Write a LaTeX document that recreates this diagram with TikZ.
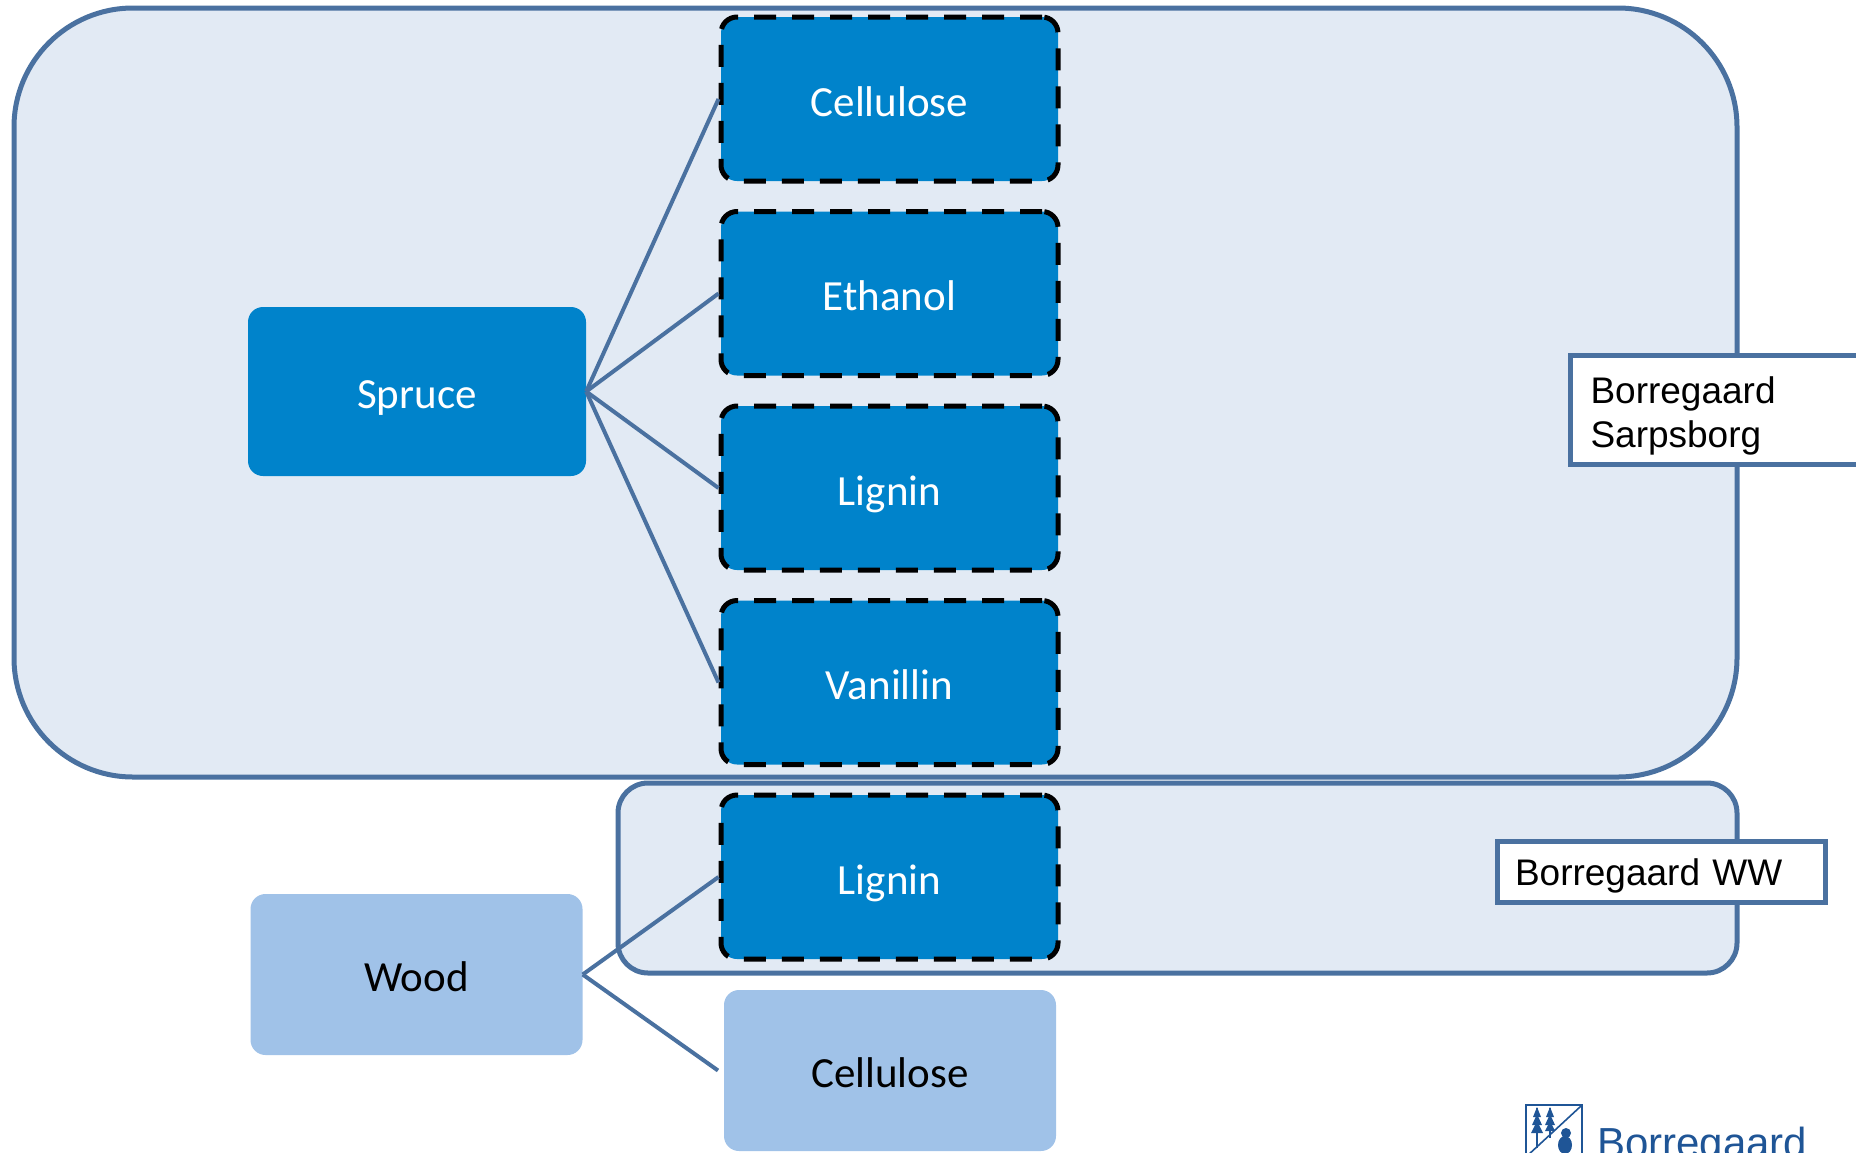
\documentclass[tikz,border=0pt]{standalone}
\usepackage{fontspec}
\setmainfont{Carlito}
\newfontfamily\sitefont{Liberation Sans}
\definecolor{groupfill}{HTML}{E2EAF4}
\definecolor{groupline}{HTML}{4A71A0}
\definecolor{darkbox}{HTML}{0083CB}
\definecolor{lightbox}{HTML}{A0C2E8}
\definecolor{logoblue}{HTML}{1F5596}

\begin{document}
\begin{tikzpicture}[x=1pt,y=-1pt,
  group/.style={draw=groupline,fill=groupfill,line width=5pt,inner sep=0pt},
  product/.style={draw=black,fill=darkbox,line width=5pt,dash pattern=on 22pt off 16pt,
    rounded corners=16pt,minimum width=337pt,minimum height=164pt,inner sep=0pt,
    text=white,font=\fontsize{43}{50}\selectfont,text height=36pt,text depth=2pt},
  source/.style={fill=darkbox,rounded corners=15pt,minimum width=338pt,minimum height=169pt,
    inner sep=0pt,text=white,font=\fontsize{43}{50}\selectfont,text height=36pt,text depth=2pt},
  other/.style={fill=lightbox,rounded corners=15pt,minimum width=332pt,minimum height=161pt,
    inner sep=0pt,text=black,font=\fontsize{43}{50}\selectfont,text height=36pt,text depth=2pt},
  link/.style={draw=groupline,line width=4pt},
  site/.style={draw=groupline,fill=white,line width=5pt,inner ysep=0pt,align=left,
    anchor=north west,font=\sitefont\fontsize{37}{44}\selectfont}]
  \useasboundingbox (0,0) rectangle (1856,1152);
  \clip (0,0) rectangle (1856,1152);
  \begin{scope}
   \node[group,rounded corners=119pt,minimum width=1723pt,minimum height=769pt] (sarpsborg) at (875.5,392.5) {};
   \node[group,rounded corners=30pt,minimum width=1119pt,minimum height=190pt] (ww) at (1177.5,878) {};
  \end{scope}
  \begin{scope}
   \node[source] (spruce) at (417,391.5) {Spruce};
   \node[other] (wood) at (416.5,974.5) {Wood};
   \node[product] (cellulose) at (889.5,99) {Cellulose};
   \node[product] (ethanol) at (889.5,293.5) {Ethanol};
   \node[product] (lignin) at (889.5,488) {Lignin};
   \node[product] (vanillin) at (889.5,682.5) {Vanillin};
   \node[product] (ligninww) at (889.5,877) {Lignin};
   \node[other] (cellulosew) at (890,1070.5) {Cellulose};
   \coordinate (cellend) at (718,1070.5);
   \draw[link] (spruce.east) -- (cellulose.west);
   \draw[link] (spruce.east) -- (ethanol.west);
   \draw[link] (spruce.east) -- (lignin.west);
   \draw[link] (spruce.east) -- (vanillin.west);
   \draw[link] (wood.east) -- (ligninww.west);
   \draw[link] (wood.east) -- (cellend);
  \end{scope}
  \begin{scope}
   \node[site,text width=270pt,inner xsep=20pt,minimum height=109pt] (lblsarp) at (1568,353) {\rule{0pt}{39pt}Borregaard\\Sarpsborg};
   \node[site,text width=293pt,inner xsep=17.5pt,minimum height=61pt,text height=30pt,text depth=4pt] (lblww) at (1495,839) {Borregaard WW};
  \end{scope}
  \begin{scope}[logoblue]
   \draw[line width=2pt] (1526,1105) rectangle (1582,1170);
   \draw[line width=1.6pt] (1581,1106) -- (1527,1156);
   \draw[line width=1.2pt] (1537,1108) -- (1537,1148);
   \draw[line width=1.2pt] (1550,1108) -- (1550,1138);
   \fill (1537,1107) -- (1533,1117) -- (1541,1117) -- cycle;
   \fill (1537,1114) -- (1532,1125) -- (1542,1125) -- cycle;
   \fill (1537,1121) -- (1531,1133) -- (1543,1133) -- cycle;
   \fill (1550,1107) -- (1546,1117) -- (1554,1117) -- cycle;
   \fill (1550,1114) -- (1545,1125) -- (1555,1125) -- cycle;
   \fill (1550,1121) -- (1545,1131) -- (1555,1131) -- cycle;
   \fill (1566,1133) circle (5pt);
   \fill (1565,1145) ellipse (7pt and 9pt);
   \node[anchor=base west,inner sep=0pt,font=\sitefont\fontsize{42}{48}\selectfont] (logo) at (1597,1157) {Borregaard};
  \end{scope}
 \end{tikzpicture}
\end{document}
